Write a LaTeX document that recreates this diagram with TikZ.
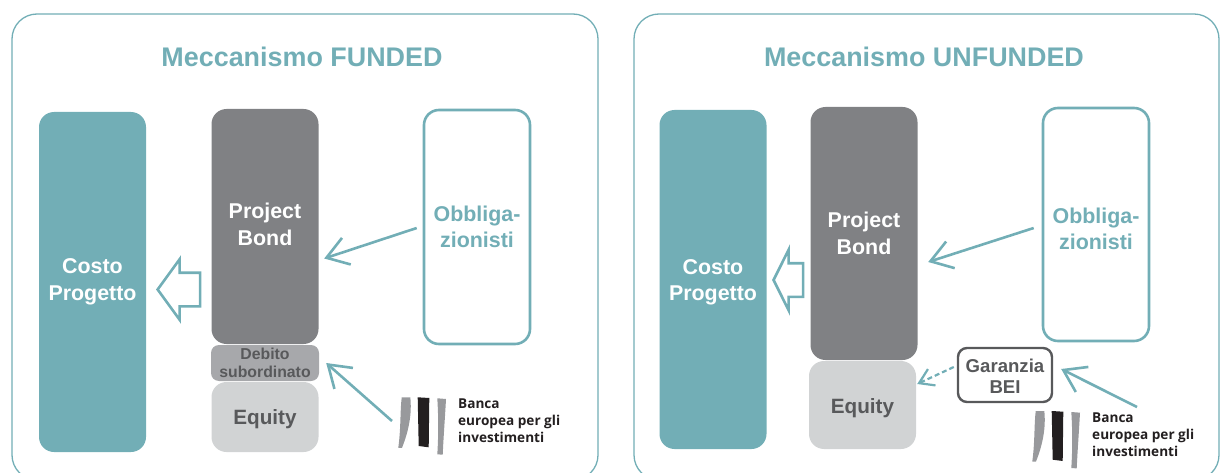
\documentclass[tikz,border=0pt]{standalone}
\usepackage{fontspec}
\setmainfont{Liberation Sans}
\newfontfamily\logofont{Open Sans}
\usetikzlibrary{arrows.meta, shapes.arrows}
\definecolor{bteal}{HTML}{72AEB6}
\definecolor{bgrey}{HTML}{808184}
\definecolor{bmid}{HTML}{A7A8AB}
\definecolor{blight}{HTML}{D1D3D4}
\definecolor{bdark}{HTML}{58595B}
\definecolor{blogo}{HTML}{231F20}
\definecolor{blogogrey}{HTML}{98999C}

\begin{document}
\begin{tikzpicture}[
      x=1pt,y=-1pt,>={Straight Barb[length=21pt,width=28pt]},
      panel/.style={draw=bteal,line width=1.3pt,rounded corners=25pt,minimum width=#1,minimum height=466pt,inner sep=0pt},
      title node/.style={font=\bfseries\fontsize{26.9}{28}\selectfont,text=bteal},
      block/.style={rounded corners=15pt,minimum width=#1,align=center,inner sep=0pt,font=\bfseries\fontsize{21.4}{26.5}\selectfont},
      main block/.style={block=107pt,fill=bteal,text=white},
      bond block/.style={block=107pt,fill=bgrey,text=white},
      holder block/.style={block=106pt,draw=bteal,line width=2.6pt,fill=white,text=bteal},
      equity block/.style={block=107pt,fill=blight,text=bdark,font=\bfseries\fontsize{20.7}{26.5}\selectfont},
      sub block/.style={block=108pt,rounded corners=8pt,fill=bmid,text=bdark,font=\bfseries\fontsize{15.8}{18.5}\selectfont},
      guarantee/.style={block=94pt,rounded corners=9pt,draw=bdark,line width=2.4pt,fill=white,text=bdark,font=\bfseries\fontsize{18.6}{21.5}\selectfont},
      flow/.style={draw=bteal,line width=2.6pt,single arrow,shape border rotate=180,inner xsep=0pt,inner ysep=15.5pt,minimum width=0pt,single arrow head extend=13.5pt},
      link/.style={->,draw=bteal,line width=2.6pt},
      logo text/.style={anchor=north west,align=left,inner sep=0pt,text=blogo,font=\logofont\bfseries\fontsize{13.6}{17}\selectfont},
      logo/.pic={
        \fill[blogogrey] (3.7,0) -- (12.3,0) .. controls (14,16) and (11,33) .. (4,50.5) -- (0.3,50.5) .. controls (3,30) and (2,15) .. (3.7,0) -- cycle;
        \fill[blogo] (19.7,0) -- (31.3,0.7) -- (30.7,50) -- (20.7,48.7) -- cycle;
        \fill[blogogrey] (39.3,1) -- (48,1.7) .. controls (47,20) and (45.5,40) .. (44.7,57.4) -- (39.3,57) .. controls (40.5,38) and (40.5,20) .. (39.3,1) -- cycle;
      }
    ]
    \clip (0,0) rectangle (1226,473);

    \node[panel=586pt] (funded) at (305,247) {};
    \node[panel=585pt] (unfunded) at (926.5,247) {};
    \node[title node] (fundedtitle) at (302,57) {Meccanismo FUNDED};
    \node[title node] (unfundedtitle) at (924,57) {Meccanismo UNFUNDED};

    \node[main block,minimum height=340pt] (costo1) at (92.5,282) {Costo\\Progetto};
    \node[bond block,minimum height=235pt] (bond1) at (265,226.5) {Project\\Bond\\[-22pt]};
    \node[sub block,minimum height=36pt] (debito1) at (265,363) {Debito\\subordinato};
    \node[equity block,minimum height=70pt] (equity1) at (265,417) {\\[-8pt]Equity};
    \node[holder block,minimum height=234pt] (obbl1) at (477,227) {Obbliga-\\zionisti};
    \node[flow,minimum height=42.5pt,single arrow tip angle=108] (flow1) at (185,289.5) {};
    \node[logo text] (bei1) at (458,399) {Banca\\europea per gli\\investimenti};
    \pic at (398,397.3) {logo};

    \node[main block,minimum height=339pt] (costo2) at (713,279.5) {\\[-6pt]Costo\\Progetto};
    \node[bond block,minimum height=253pt] (bond2) at (864,233.5) {Project\\Bond};
    \node[equity block,minimum height=88pt] (equity2) at (862.5,405) {\\[-6pt]Equity};
    \node[holder block,minimum height=233pt] (obbl2) at (1096,224.5) {\\[-2pt]Obbliga-\\zionisti};
    \node[guarantee,minimum height=54pt] (garanzia) at (1005,375) {\\[-6pt]Garanzia\\BEI};
    \node[flow,minimum height=29.5pt,single arrow tip angle=127] (flow2) at (792.5,280) {};
    \node[logo text] (bei2) at (1092,412.5) {Banca\\europea per gli\\investimenti};
    \pic at (1032,411) {logo};

    \draw[link] ([shift={(-6,1)}]obbl1.west) -- ([shift={(5.5,32)}]bond1.east);
    \draw[link] ([shift={(-8,3.5)}]obbl2.west) -- ([shift={(10.5,28.5)}]bond2.east);
    \draw[link] ([shift={(-66,22)}]bei1.north west) -- ([shift={(7,0)}]debito1.east);
    \draw[link] ([shift={(45,-5.5)}]bei2.north west) -- ([shift={(8,-6)}]garanzia.east);
    \draw[link,>={Straight Barb[length=14pt,width=18pt]},dash pattern=on 5pt off 3pt,line width=2.2pt] ([shift={(-3,-8)}]garanzia.west) -- ([shift={(1,-21)}]equity2.east);
  \end{tikzpicture}
\end{document}
